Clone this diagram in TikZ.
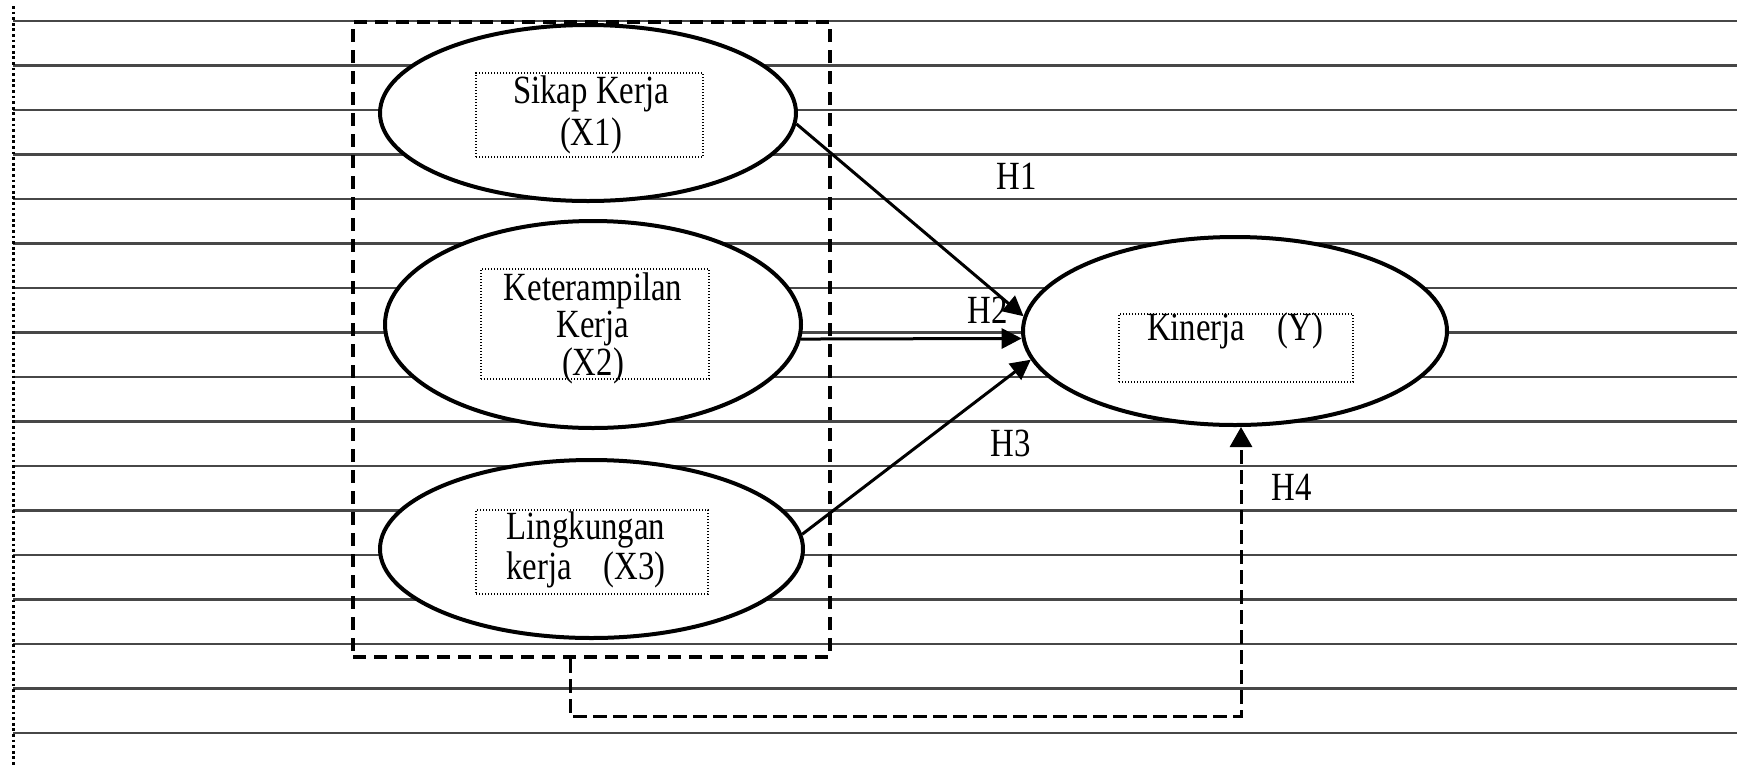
\documentclass[tikz,border=0pt]{standalone}
\usepackage{fontspec}
\setmainfont{Liberation Serif}[FakeStretch=0.82]
\usetikzlibrary{shapes.geometric,arrows.meta}
\begin{document}
\begin{tikzpicture}[x=0.5pt,y=-0.5pt,
  bgline/.style={line width=1.1pt,draw=black!72},
  vline/.style={line width=1.5pt,dash pattern=on 1.4pt off 1.4pt},
  ell/.style={ellipse,draw,fill=white,line width=2pt,inner sep=0pt},
  tbox/.style={draw,line width=0.7pt,dash pattern=on 0.6pt off 0.9pt,inner sep=0pt},
  lab/.style={inner sep=0pt,font=\fontsize{20}{20}\selectfont},
  arr/.style={line width=1.5pt,-{Triangle[length=10pt,width=10pt]}},
  dbox/.style={draw,line width=2pt,dash pattern=on 6.5pt off 4pt,inner sep=0pt},
  dline/.style={line width=1.5pt,dash pattern=on 7pt off 3pt,-{Triangle[length=10pt,width=11pt]}}
]
\useasboundingbox[fill=white] (0,0) rectangle (1737,767);
% lined background
\foreach \k in {0,...,16}
  \draw[bgline] (13,{21+44.5*\k}) -- (1737,{21+44.5*\k});
\draw[vline] (13,6) -- (13,767);
% dashed group box
\node[dbox,minimum width=238.5pt,minimum height=317.5pt] (db) at (591.5,339.5) {};
% ellipses
\node[ell,minimum width=208pt,minimum height=88pt] (e1) at (588,113) {};
\node[ell,minimum width=208pt,minimum height=103.5pt] (e2) at (593,324.5) {};
\node[ell,minimum width=211.5pt,minimum height=89pt] (e3) at (591.5,549) {};
\node[ell,minimum width=212pt,minimum height=94pt] (ey) at (1235,331) {};
% dotted text boxes
\node[tbox,minimum width=113.5pt,minimum height=42pt] (b1) at (589.5,115) {};
\node[tbox,minimum width=114pt,minimum height=55pt] (b2) at (595,324) {};
\node[tbox,minimum width=116pt,minimum height=42pt] (b3) at (592,552) {};
\node[tbox,minimum width=117pt,minimum height=34pt] (by) at (1236,348) {};
% texts
\node[inner sep=0pt,align=center,font=\fontsize{20}{21}\selectfont] (t1) at (591,115) {Sikap Kerja\\(X1)};
\node[inner sep=0pt,align=center,font=\fontsize{20}{18.75}\selectfont] (t2) at (593,328) {Keterampilan\\Kerja\\(X2)};
\node[inner sep=0pt,align=center,font=\fontsize{20}{20}\selectfont] (t3) at (586,550) {Lingkungan\\kerja\hspace{16pt}(X3)};
\node[inner sep=0pt,font=\fontsize{20}{20}\selectfont] (ty) at (1235,331) {Kinerja\hspace{16pt}(Y)};
% labels
\node[lab] (h1) at (1017,176) {H1};
\node[lab] (h2) at (988,310) {H2};
\node[lab] (h3) at (1011,443) {H3};
\node[lab] (h4) at (1292,487) {H4};
% arrows
\draw[arr] (e1.-3.9) -- (ey.176.5);
\draw[arr] (e2.-4.3) -- (ey.182.4);
\draw[arr] (e3.4.3) -- (ey.188.2);
\coordinate (c1) at (570,716);
\coordinate (c2) at (1241,716);
\draw[dline] (db.south -| c1) -- (c1) -- (c2) -- (ey.south -| c2);
\end{tikzpicture}
\end{document}
